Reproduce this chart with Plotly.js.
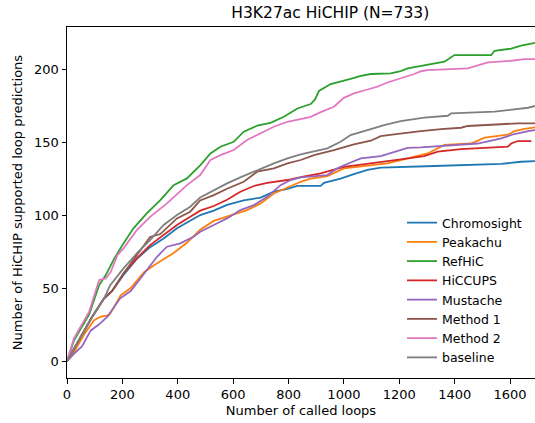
<!DOCTYPE html>
<html>
<head>
<meta charset="utf-8">
<script src="https://cdn.plot.ly/plotly-3.0.1.min.js"></script>
<style>html,body{margin:0;padding:0;background:#fff}#chart{width:535px;height:423px}</style>
</head>
<body>
<div id="chart"></div>
<script>
// Series names
const seriesNames = ["Chromosight", "Peakachu", "RefHiC", "HiCCUPS", "Mustache", "Method 1", "Method 2", "baseline"];
const seriesColors = ["#1f77b4", "#ff7f0e", "#2ca02c", "#d62728", "#9467bd", "#8c564b", "#e377c2", "#7f7f7f"];

// Chromosight
const chromosightX = [0,36,90,134,163,204,252,300,349,397,433,481,530,578,638,699,747,796,832,916,928,988,1036,1085,1133,1278,1327,1568,1640,1690];
const chromosightY = [0,12,30,43,48,59,70,78,84,91,95,100,103,107,110,112,116,118,120,120,122,125,128,131,132.5,133,133.6,135,136.5,137];

// Peakachu
const peakachuX = [0,25,61,98,122,152,170,194,230,279,325,385,433,481,530,578,650,699,747,796,844,880,940,1000,1085,1157,1205,1254,1302,1363,1459,1508,1592,1616,1652,1690];
const peakachuY = [0,6,18,28,30.5,31.5,37,45,50,61,67,74,81,90,96,99,103.4,108,114.8,118.9,122.8,125,126.7,132,133.8,135.4,137.7,140,142.2,148,149,153,155,157.5,159,160];

// RefHiC
const refhicX = [0,25,80,116,140,170,204,240,288,337,385,433,481,518,554,602,638,687,735,783,832,880,895,910,952,988,1024,1061,1097,1169,1205,1230,1278,1314,1363,1399,1532,1544,1604,1640,1677,1690];
const refhicY = [0,14,32,52,58.9,70,80.6,90.9,101.2,110.3,120.5,125.1,134,142.2,146.8,150.2,157.1,161.2,163.2,167.3,173,176,179,185,189.7,191.3,193.2,195.4,196.6,197,198.6,200.5,202,203,205,209.6,209.6,212.5,214,216,217.6,218];

// HiCCUPS
const hiccupsX = [0,36,90,134,163,204,252,300,349,397,445,481,530,578,626,675,723,796,844,916,1000,1085,1157,1205,1278,1290,1339,1423,1592,1604,1628,1677];
const hiccupsY = [0,12,30,43,48,60,70.3,79.4,86.3,93.2,98.8,103,106.2,110.5,116,119.9,122.1,124,126,128.5,133,135.4,137,138.1,140.2,140.4,143.4,145.2,146.8,149,150.7,150.7];

// Mustache
const mustacheX = [0,25,54,86,115,146,192,230,279,325,361,409,457,481,530,578,626,675,723,771,808,844,940,976,1024,1061,1133,1193,1230,1278,1351,1483,1568,1616,1665,1690];
const mustacheY = [0,5,10,21,25,30.4,43,48,60,71.4,78.3,80.6,85.1,88.6,93.2,97.7,103.4,106.8,112.5,120.5,124,125.8,127.4,132,136,138.8,140.4,144,146,146.4,147.5,149,152.5,155.5,157.5,158.2];

// Method 1
const method1X = [0,36,90,134,163,204,252,300,337,397,445,481,530,578,638,687,747,796,844,892,964,1036,1097,1133,1181,1242,1278,1351,1423,1447,1556,1628,1690];
const method1Y = [0,12,30,43,48,60,72.6,85,87,97.7,102.3,110,113.7,118,122.8,129.7,132,135.4,137.7,141,144.5,148.4,150.9,154.1,155.3,156.4,157.5,158.9,159.8,161,162,162.8,162.8];

// Method 2
const method2X = [0,25,80,116,140,158,182,204,252,300,361,433,481,518,554,602,650,699,747,796,844,880,916,964,1000,1036,1085,1121,1157,1205,1254,1278,1302,1447,1520,1604,1652,1690];
const method2Y = [0,15.5,33.8,55.5,56.6,61.2,72.6,77.2,89.7,98.8,108,120.5,127.4,137.7,141,144.5,151.4,156,160.5,163.9,166,167.3,170.5,174.2,180.3,183.3,186,187.9,190.8,193.6,196.6,198.5,199.3,200.5,204.6,205.7,206.8,206.8];

// baseline
const baselineX = [0,36,90,134,156,204,252,300,349,397,445,481,530,578,626,687,747,796,844,892,940,988,1024,1085,1145,1205,1254,1290,1375,1387,1544,1628,1665,1690];
const baselineY = [0,12,30,43,52,63.5,73.7,82.9,93.2,100,105.7,112,117,121.7,125.8,130.8,135.4,138.8,141.5,143.6,145.7,150.2,154.8,158.2,161.6,164.4,165.8,166.7,168,169.6,170.8,172.4,173.5,174.7];

// Axis ticks
const xTicks = [0,200,400,600,800,1000,1200,1400,1600];
const yTicks = [0,50,100,150,200];

const allX = [chromosightX, peakachuX, refhicX, hiccupsX, mustacheX, method1X, method2X, baselineX];
const allY = [chromosightY, peakachuY, refhicY, hiccupsY, mustacheY, method1Y, method2Y, baselineY];

const font = "DejaVu Sans, sans-serif";
const traces = seriesNames.map((name, i) => ({
  type: "scatter", mode: "lines", name: name,
  x: allX[i], y: allY[i],
  line: {color: seriesColors[i], width: 1.8, shape: "linear"}
}));

const layout = {
  width: 535, height: 423,
  margin: {l: 67, r: 0, t: 27, b: 45, pad: 0},
  paper_bgcolor: "#fff", plot_bgcolor: "#fff",
  font: {family: font, size: 13, color: "#000"},
  title: {text: "H3K27ac HiCHIP (N=733)", font: {family: font, size: 15.5, color: "#000"},
          x: 301/535, xanchor: "center", y: 1 - 13/423, yanchor: "middle", xref: "paper", yref: "container"},
  xaxis: {
    range: [0, 1690], tickvals: xTicks, ticktext: xTicks.map(String),
    showgrid: false, zeroline: false, showline: true, linecolor: "#000", linewidth: 1, mirror: true,
    ticks: "outside", ticklen: 4.5, tickwidth: 1, tickcolor: "#000",
    tickfont: {family: font, size: 13, color: "#000"},
    title: {text: "Number of called loops", font: {family: font, size: 13, color: "#000"}, standoff: 4},
    automargin: false
  },
  yaxis: {
    range: [-11.6, 228.8], tickvals: yTicks, ticktext: yTicks.map(String),
    showgrid: false, zeroline: false, showline: true, linecolor: "#000", linewidth: 1, mirror: false,
    ticks: "outside", ticklen: 4.5, tickwidth: 1, tickcolor: "#000",
    tickfont: {family: font, size: 13, color: "#000"},
    title: {text: "Number of HiCHIP supported loop predictions", font: {family: font, size: 13, color: "#000"}, standoff: 8},
    automargin: false
  },
  legend: {
    x: (402-67)/468, xanchor: "left", y: (378-208)/351, yanchor: "top",
    bgcolor: "rgba(255,255,255,0.8)", borderwidth: 0,
    font: {family: font, size: 12.5, color: "#000"}, tracegroupgap: 0
  },
  showlegend: true
};

Plotly.newPlot("chart", traces, layout, {displayModeBar: false, staticPlot: true});
</script>
</body>
</html>
